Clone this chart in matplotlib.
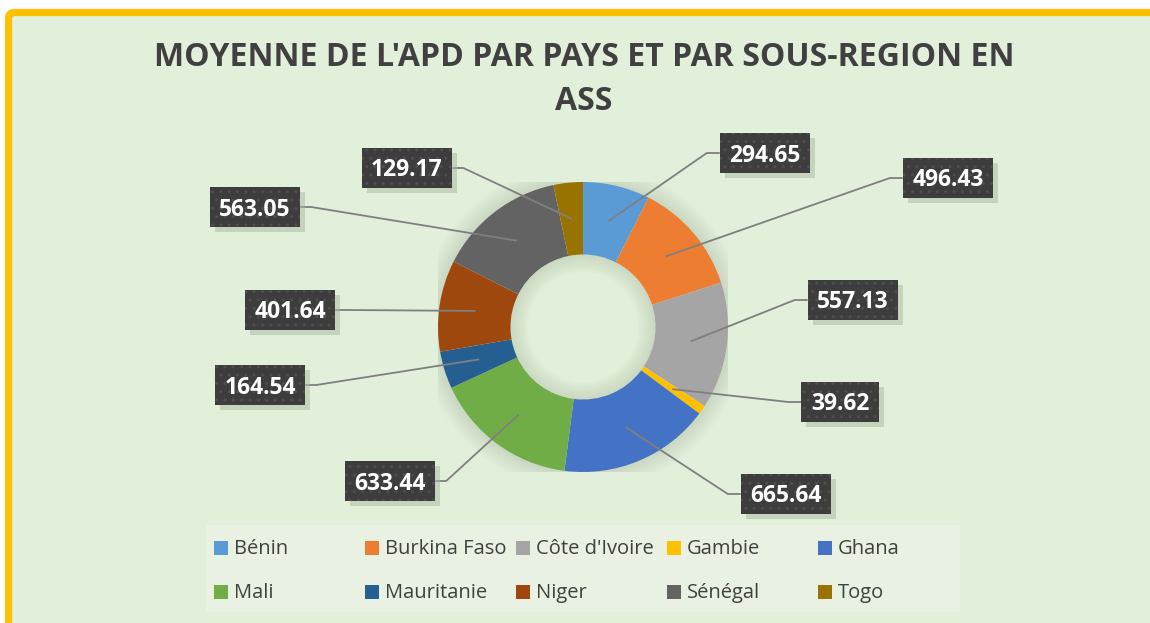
import matplotlib
matplotlib.use('Agg')
import matplotlib.pyplot as plt
import numpy as np
from matplotlib.patches import Rectangle, FancyBboxPatch, Wedge

categories = ['Bénin', 'Burkina Faso', "Côte d'Ivoire", 'Gambie', 'Ghana',
              'Mali', 'Mauritanie', 'Niger', 'Sénégal', 'Togo']
values = [294.65, 496.43, 557.13, 39.62, 665.64, 633.44, 164.54, 401.64, 563.05, 129.17]
value_labels = ['294.65', '496.43', '557.13', '39.62', '665.64',
                '633.44', '164.54', '401.64', '563.05', '129.17']
colors = ['#5B9BD5', '#ED7D31', '#A5A5A5', '#FFC000', '#4472C4',
          '#70AD47', '#255E91', '#9E480E', '#636363', '#997300']
title_lines = ["MOYENNE DE L'APD PAR PAYS ET PAR SOUS-REGION EN", "ASS"]

# layout (pixels)
W, H = 1150, 623
CX, CY, R = 583, 327, 145
label_pos = [(765, 153), (948, 178), (853, 300), (840, 402), (786, 494),
             (390, 481), (260, 385), (290, 310), (255, 207), (407, 168)]
FONT = ['Open Sans', 'DejaVu Sans']

fig = plt.figure(figsize=(W / 100, H / 100), dpi=100)
fig.patch.set_facecolor('white')

# background axes
axb = fig.add_axes([0, 0, 1, 1], zorder=0)
axb.set_xlim(0, W); axb.set_ylim(H, 0); axb.axis('off')
axb.add_patch(FancyBboxPatch((8.5, 12.5), W + 40, H + 40,
                             boxstyle='round,pad=0,rounding_size=6',
                             facecolor='#E2EFDA', edgecolor='#FFC000', linewidth=5.2))
# legend background
axb.add_patch(Rectangle((206, 525), 754, 87, facecolor='#E8F1E2', edgecolor='none'))

# pie axes
axp = fig.add_axes([(CX - R) / W, (H - CY - R) / H, 2 * R / W, 2 * R / H], zorder=1)
axp.set_xlim(-1, 1); axp.set_ylim(-1, 1); axp.axis('off')
# soft shadow / glow around the ring
for k in range(12):
    axp.add_patch(Wedge((0, 0), 1.0 + 0.011 * (k + 1), 0, 360, width=0.011 * (k + 1) + 0.01,
                        facecolor='#5a6a50', edgecolor='none', alpha=0.012))
for k in range(10):
    axp.add_patch(Wedge((0, 0), 0.5 + 0.001, 0, 360, width=0.012 * (k + 1),
                        facecolor='#5a6a50', edgecolor='none', alpha=0.014))
wedges, _ = axp.pie(values, colors=colors, startangle=90, counterclock=False,
                    radius=1.0, wedgeprops=dict(width=0.5, edgecolor='none'))
axp.set_xlim(-1, 1); axp.set_ylim(-1, 1)

# top axes: title, labels, leader lines, legend
axt = fig.add_axes([0, 0, 1, 1], zorder=2)
axt.set_xlim(0, W); axt.set_ylim(H, 0); axt.axis('off')
axt.patch.set_alpha(0)

axt.text(584, 58, title_lines[0], ha='center', va='center', fontsize=23,
         fontweight='bold', color='#404040', family=FONT)
axt.text(584, 102, title_lines[1], ha='center', va='center', fontsize=23,
         fontweight='bold', color='#404040', family=FONT)

# label texts
texts = []
for (lx, ly), lab in zip(label_pos, value_labels):
    t = axt.text(lx, ly + 8.5, lab, ha='center', va='baseline', fontsize=16.5,
                 fontweight='bold', color='white', family=FONT, zorder=5)
    texts.append(t)
fig.canvas.draw()
inv = axt.transData.inverted()
for i, ((lx, ly), t, w) in enumerate(zip(label_pos, texts, wedges)):
    ext = t.get_window_extent()
    bw = ext.width + 19
    bh = 40
    # shadow
    axt.add_patch(Rectangle((lx - bw / 2 + 5, ly - bh / 2 + 5), bw, bh,
                            facecolor='#aab8a2', edgecolor='none', alpha=0.5, zorder=3))
    axt.add_patch(Rectangle((lx - bw / 2, ly - bh / 2), bw, bh, facecolor='#3D3D3D',
                            edgecolor='#4E4E4E', linewidth=0, hatch='..', zorder=4))
    # anchor at mid-angle of wedge, middle of ring
    th = np.deg2rad((w.theta1 + w.theta2) / 2)
    disp = axp.transData.transform((0.75 * np.cos(th), 0.75 * np.sin(th)))
    ax_, ay_ = inv.transform(disp)
    if lx > CX:
        ex = lx - bw / 2
        elb = ex - 13
    else:
        ex = lx + bw / 2
        elb = ex + 11
    ey = ly
    axt.plot([ax_, elb, ex], [ay_, ey, ey], color='#7F7F7F', linewidth=1.3,
             solid_capstyle='butt', zorder=2)

# legend (manual, equal column widths like the original)
col_x = [214, 365, 516, 667, 818]
row_y = [548, 592]
for i, (cat, col) in enumerate(zip(categories, colors)):
    r, c = divmod(i, 5)
    x, y = col_x[c], row_y[r]
    axt.add_patch(Rectangle((x, y - 7), 14, 14, facecolor=col, edgecolor='none'))
    axt.text(x + 20, y + 1, cat, ha='left', va='center', fontsize=14.5,
             color='#404040', family=FONT)

fig.savefig('out.png', dpi=100, facecolor=fig.get_facecolor())
